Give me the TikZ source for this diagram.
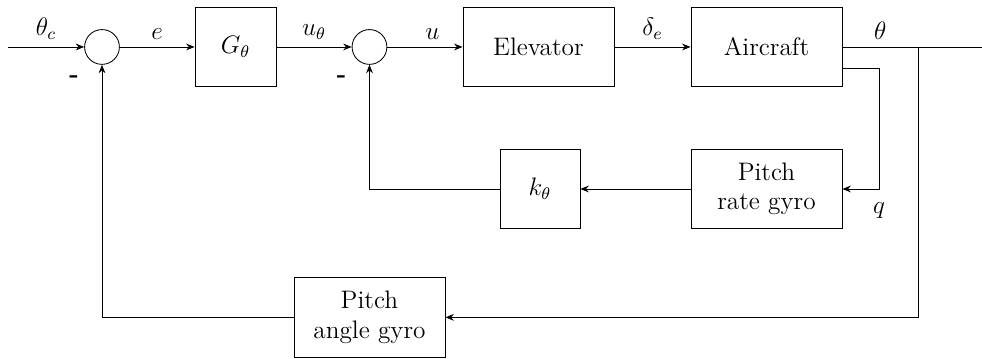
\documentclass[tikz,border=0pt]{standalone}
\usetikzlibrary{arrows.meta, calc}
\tikzset{
  every picture/.style={line width=0.4pt, font=\large},
  block/.style={draw, align=center, minimum height=1.33cm, inner sep=3pt},
  sum/.style={draw, circle, minimum size=0.58cm, inner sep=0pt,
    label={[anchor=center, label distance=0.36cm, yshift=-0.07cm]225:{\textbf{-}}}},
  arrow/.style={-{Stealth[length=4pt, width=3.2pt]}},
  sig/.style={above},
}

\begin{document}
\begin{tikzpicture}
  \useasboundingbox (0,0) rectangle (16.367,-5.967);
  % forward path
  \coordinate (in) at (0.133,-0.783);
  \node[sum] (s1) at (1.7,-0.783) {};
  \node[block, minimum width=1.35cm] (gth) at (3.925,-0.783) {$G_\theta$};
  \node[sum] (s2) at (6.158,-0.783) {};
  \node[block, minimum width=2.517cm] (elev) at (8.975,-0.783) {Elevator};
  \node[block, minimum width=2.517cm] (ac) at (12.775,-0.783) {Aircraft};
  \coordinate (tap) at (15.3,-0.783);
  \coordinate (out) at (16.367,-0.783);
  % feedback blocks
  \node[block, minimum width=2.517cm] (rgyro) at (12.775,-3.15) {Pitch\\rate gyro};
  \node[block, minimum width=1.333cm] (kth) at (9.0,-3.15) {$k_\theta$};
  \node[block, minimum width=2.517cm] (agyro) at (6.158,-5.29) {Pitch\\angle gyro};
  \coordinate (qc) at (14.65,-3.15);

  \draw[arrow] (in) -- node[sig] {$\theta_c$} (s1);
  \draw[arrow] (s1) -- node[sig] {$e$} (gth);
  \draw[arrow] (gth) -- node[sig] {$u_\theta$} (s2);
  \draw[arrow] (s2) -- node[sig, pos=0.6] {$u$} (elev);
  \draw[arrow] (elev) -- node[sig] {$\delta_e$} (ac);
  \draw (ac) -- node[sig] {$\theta$} (tap) -- (out);
  % inner loop
  \draw[arrow] ([yshift=-0.35cm]ac.east) -| (qc) node[below=3pt] {$q$} -- (rgyro);
  \draw[arrow] (rgyro) -- (kth);
  \draw[arrow] (kth) -| (s2);
  % outer loop
  \draw[arrow] (tap) |- (agyro);
  \draw[arrow] (agyro) -| (s1);
\end{tikzpicture}
\end{document}
